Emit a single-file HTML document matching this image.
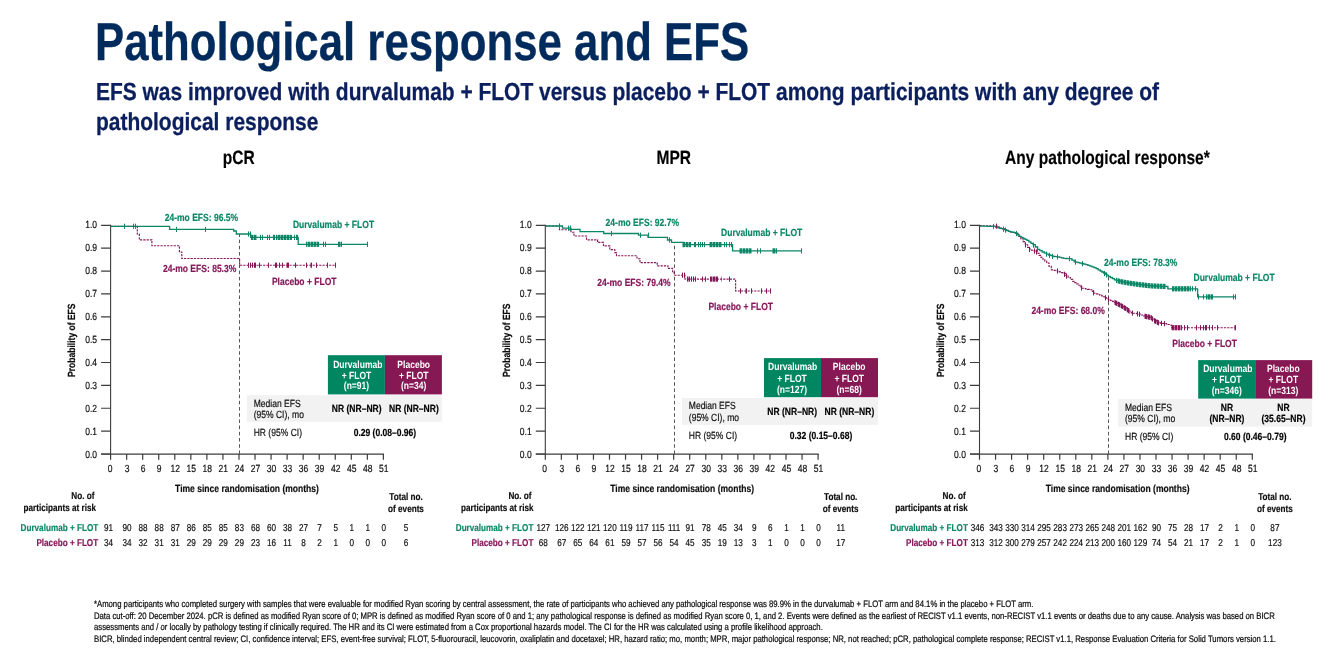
<!DOCTYPE html>
<html lang="en">
<head>
<meta charset="utf-8">
<title>Pathological response and EFS</title>
<style>
html,body{margin:0;padding:0;background:#fff;}
body{width:1335px;height:655px;overflow:hidden;position:relative;font-family:"Liberation Sans",Arial,sans-serif;text-rendering:geometricPrecision;}
.slide{position:absolute;left:0;top:0;width:1335px;height:655px;overflow:hidden;background:#fff;}
h1,h2,p{margin:0;padding:0;position:absolute;white-space:nowrap;transform-origin:0 0;font-family:"Liberation Sans",Arial,sans-serif;}
h1{left:94.7px;top:12.1px;font-size:53.6px;line-height:60px;font-weight:bold;color:#002b5c;-webkit-text-stroke:0.3px #002b5c;transform:scaleX(0.8166);}
h2{left:95.5px;top:77.6px;font-size:24.6px;line-height:30.6px;font-weight:bold;color:#0b1f5e;-webkit-text-stroke:0.3px #0b1f5e;transform:scaleX(0.852);}
.fn p{left:94px;font-size:9.4px;line-height:12px;color:#0a0a0a;-webkit-text-stroke:0.22px #0a0a0a;transform:scaleX(0.823);}
svg{position:absolute;left:0;top:0;}
svg text{font-family:"Liberation Sans",Arial,sans-serif;white-space:pre;text-rendering:geometricPrecision;stroke-width:0.18px;stroke-linejoin:round;}
</style>
</head>
<body>
<div class="slide">
<h1>Pathological response and EFS</h1>
<h2>EFS was improved with durvalumab + FLOT versus placebo + FLOT among participants with any degree of<br>pathological response</h2>
<svg width="1335" height="655" viewBox="0 0 1335 655">
<g id="chart-pcr">
<path d="M110.60 224.70V454.10" fill="none" stroke="#3c3c3c" stroke-width="1.1"/>
<path d="M101.10 454.10H384.00" fill="none" stroke="#3c3c3c" stroke-width="1.15"/>
<path d="M101.10 454.00H110.60M101.10 431.13H110.60M101.10 408.26H110.60M101.10 385.39H110.60M101.10 362.52H110.60M101.10 339.65H110.60M101.10 316.78H110.60M101.10 293.91H110.60M101.10 271.04H110.60M101.10 248.17H110.60M101.10 225.30H110.60M110.60 454.00V459.80M126.65 454.00V459.80M142.69 454.00V459.80M158.74 454.00V459.80M174.79 454.00V459.80M190.84 454.00V459.80M206.88 454.00V459.80M222.93 454.00V459.80M238.98 454.00V459.80M255.02 454.00V459.80M271.07 454.00V459.80M287.12 454.00V459.80M303.16 454.00V459.80M319.21 454.00V459.80M335.26 454.00V459.80M351.31 454.00V459.80M367.35 454.00V459.80M383.40 454.00V459.80" fill="none" stroke="#3c3c3c" stroke-width="1.2"/>
<path d="M239.50 454.00V234.00" fill="none" stroke="#585858" stroke-width="1" stroke-dasharray="3.6 2.6"/>
<text transform="translate(97.00 457.70) scale(0.82 1)" font-size="10.4" text-anchor="end" fill="#0d0d0d" stroke="#0d0d0d">0.0</text>
<text transform="translate(97.00 434.73) scale(0.82 1)" font-size="10.4" text-anchor="end" fill="#0d0d0d" stroke="#0d0d0d">0.1</text>
<text transform="translate(97.00 411.76) scale(0.82 1)" font-size="10.4" text-anchor="end" fill="#0d0d0d" stroke="#0d0d0d">0.2</text>
<text transform="translate(97.00 388.79) scale(0.82 1)" font-size="10.4" text-anchor="end" fill="#0d0d0d" stroke="#0d0d0d">0.3</text>
<text transform="translate(97.00 365.82) scale(0.82 1)" font-size="10.4" text-anchor="end" fill="#0d0d0d" stroke="#0d0d0d">0.4</text>
<text transform="translate(97.00 342.85) scale(0.82 1)" font-size="10.4" text-anchor="end" fill="#0d0d0d" stroke="#0d0d0d">0.5</text>
<text transform="translate(97.00 319.88) scale(0.82 1)" font-size="10.4" text-anchor="end" fill="#0d0d0d" stroke="#0d0d0d">0.6</text>
<text transform="translate(97.00 296.91) scale(0.82 1)" font-size="10.4" text-anchor="end" fill="#0d0d0d" stroke="#0d0d0d">0.7</text>
<text transform="translate(97.00 273.94) scale(0.82 1)" font-size="10.4" text-anchor="end" fill="#0d0d0d" stroke="#0d0d0d">0.8</text>
<text transform="translate(97.00 250.97) scale(0.82 1)" font-size="10.4" text-anchor="end" fill="#0d0d0d" stroke="#0d0d0d">0.9</text>
<text transform="translate(97.00 228.00) scale(0.82 1)" font-size="10.4" text-anchor="end" fill="#0d0d0d" stroke="#0d0d0d">1.0</text>
<text transform="translate(110.00 471.80) scale(0.82 1)" font-size="10.4" text-anchor="middle" fill="#0d0d0d" stroke="#0d0d0d">0</text>
<text transform="translate(127.05 471.80) scale(0.82 1)" font-size="10.4" text-anchor="middle" fill="#0d0d0d" stroke="#0d0d0d">3</text>
<text transform="translate(143.09 471.80) scale(0.82 1)" font-size="10.4" text-anchor="middle" fill="#0d0d0d" stroke="#0d0d0d">6</text>
<text transform="translate(159.14 471.80) scale(0.82 1)" font-size="10.4" text-anchor="middle" fill="#0d0d0d" stroke="#0d0d0d">9</text>
<text transform="translate(175.19 471.80) scale(0.82 1)" font-size="10.4" text-anchor="middle" fill="#0d0d0d" stroke="#0d0d0d">12</text>
<text transform="translate(191.24 471.80) scale(0.82 1)" font-size="10.4" text-anchor="middle" fill="#0d0d0d" stroke="#0d0d0d">15</text>
<text transform="translate(207.28 471.80) scale(0.82 1)" font-size="10.4" text-anchor="middle" fill="#0d0d0d" stroke="#0d0d0d">18</text>
<text transform="translate(223.33 471.80) scale(0.82 1)" font-size="10.4" text-anchor="middle" fill="#0d0d0d" stroke="#0d0d0d">21</text>
<text transform="translate(239.38 471.80) scale(0.82 1)" font-size="10.4" text-anchor="middle" fill="#0d0d0d" stroke="#0d0d0d">24</text>
<text transform="translate(255.42 471.80) scale(0.82 1)" font-size="10.4" text-anchor="middle" fill="#0d0d0d" stroke="#0d0d0d">27</text>
<text transform="translate(271.47 471.80) scale(0.82 1)" font-size="10.4" text-anchor="middle" fill="#0d0d0d" stroke="#0d0d0d">30</text>
<text transform="translate(287.52 471.80) scale(0.82 1)" font-size="10.4" text-anchor="middle" fill="#0d0d0d" stroke="#0d0d0d">33</text>
<text transform="translate(303.56 471.80) scale(0.82 1)" font-size="10.4" text-anchor="middle" fill="#0d0d0d" stroke="#0d0d0d">36</text>
<text transform="translate(319.61 471.80) scale(0.82 1)" font-size="10.4" text-anchor="middle" fill="#0d0d0d" stroke="#0d0d0d">39</text>
<text transform="translate(335.66 471.80) scale(0.82 1)" font-size="10.4" text-anchor="middle" fill="#0d0d0d" stroke="#0d0d0d">42</text>
<text transform="translate(351.71 471.80) scale(0.82 1)" font-size="10.4" text-anchor="middle" fill="#0d0d0d" stroke="#0d0d0d">45</text>
<text transform="translate(367.75 471.80) scale(0.82 1)" font-size="10.4" text-anchor="middle" fill="#0d0d0d" stroke="#0d0d0d">48</text>
<text transform="translate(383.80 471.80) scale(0.82 1)" font-size="10.4" text-anchor="middle" fill="#0d0d0d" stroke="#0d0d0d">51</text>
<text transform="translate(75.00 340.20) rotate(-90) scale(0.82 1)" font-size="10.4" font-weight="bold" text-anchor="middle" fill="#0d0d0d" stroke="#0d0d0d">Probability of EFS</text>
<text transform="translate(247.00 491.80) scale(0.82 1)" font-size="10.4" font-weight="bold" text-anchor="middle" fill="#0d0d0d" stroke="#0d0d0d">Time since randomisation (months)</text>
<path d="M110.6 226.3H137.3V234.0H139.3V239.8H151.9V245.7H179.4V252.0H181.8V258.5H239.6V265.2H335.6V265.2" fill="none" stroke="#86185a" stroke-width="1.15" stroke-dasharray="2.2 1.1"/>
<path d="M110.6 226.3H169.6V229.4H233.7V231.0H236.3V234.0H250.6V237.4H298.2V244.3H367.6V244.3" fill="none" stroke="#0b8767" stroke-width="1.3"/>
<path d="M124.5 223.7V228.9M133.5 223.7V228.9M135.5 223.7V228.9M176.5 226.8V232.0M205.5 226.8V232.0M248.5 231.4V236.6M250.5 231.4V236.6M251.5 234.8V240.0M252.5 234.8V240.0M254.5 234.8V240.0M255.5 234.8V240.0M260.5 234.8V240.0M262.5 234.8V240.0M267.5 234.8V240.0M269.5 234.8V240.0M273.5 234.8V240.0M274.5 234.8V240.0M276.5 234.8V240.0M278.5 234.8V240.0M279.5 234.8V240.0M281.5 234.8V240.0M282.5 234.8V240.0M284.5 234.8V240.0M285.5 234.8V240.0M287.5 234.8V240.0M288.5 234.8V240.0M290.5 234.8V240.0M291.5 234.8V240.0M294.5 234.8V240.0M296.5 234.8V240.0M297.5 234.8V240.0M306.5 241.7V246.9M308.5 241.7V246.9M309.5 241.7V246.9M311.5 241.7V246.9M312.5 241.7V246.9M314.5 241.7V246.9M315.5 241.7V246.9M317.5 241.7V246.9M318.5 241.7V246.9M323.5 241.7V246.9M325.5 241.7V246.9M338.5 241.7V246.9M339.5 241.7V246.9M341.5 241.7V246.9M367.5 241.7V246.9" fill="none" stroke="#0b8767" stroke-width="1"/>
<path d="M253.5 234.8V240.0M256.5 234.8V240.0M277.5 234.8V240.0M280.5 234.8V240.0M283.5 234.8V240.0M286.5 234.8V240.0M289.5 234.8V240.0M307.5 241.7V246.9M310.5 241.7V246.9M313.5 241.7V246.9M316.5 241.7V246.9M340.5 241.7V246.9" fill="none" stroke="#0b8767" stroke-width="1" stroke-opacity="0.5"/>
<path d="M248.5 262.6V267.8M250.5 262.6V267.8M252.5 262.6V267.8M254.5 262.6V267.8M255.5 262.6V267.8M259.5 262.6V267.8M268.5 262.6V267.8M275.5 262.6V267.8M276.5 262.6V267.8M279.5 262.6V267.8M282.5 262.6V267.8M287.5 262.6V267.8M288.5 262.6V267.8M295.5 262.6V267.8M306.5 262.6V267.8M311.5 262.6V267.8M316.5 262.6V267.8M327.5 262.6V267.8M335.5 262.6V267.8" fill="none" stroke="#86185a" stroke-width="1"/>
<path d="M286.5 262.6V267.8M310.5 262.6V267.8" fill="none" stroke="#86185a" stroke-width="1" stroke-opacity="0.5"/>
<text transform="translate(164.70 220.90) scale(0.82 1)" font-size="10.4" font-weight="bold" fill="#0b8767" stroke="#0b8767">24-mo EFS: 96.5%</text>
<text transform="translate(162.90 271.80) scale(0.82 1)" font-size="10.4" font-weight="bold" fill="#86185a" stroke="#86185a">24-mo EFS: 85.3%</text>
<text transform="translate(292.90 227.60) scale(0.82 1)" font-size="10.4" font-weight="bold" fill="#0b8767" stroke="#0b8767">Durvalumab + FLOT</text>
<text transform="translate(271.90 284.60) scale(0.82 1)" font-size="10.4" font-weight="bold" fill="#86185a" stroke="#86185a">Placebo + FLOT</text>
<text transform="translate(238.70 164.30) scale(0.81 1)" font-size="19.2" font-weight="bold" text-anchor="middle" fill="#000" stroke="#000">pCR</text>
<rect x="246.90" y="395.20" width="195.00" height="26.60" fill="#f2f2f2"/>
<rect x="327.90" y="355.20" width="57" height="39.20" fill="#018662"/>
<rect x="384.90" y="355.20" width="57" height="39.20" fill="#861854"/>
<text transform="translate(357.80 367.70) scale(0.82 1)" font-size="10.4" font-weight="bold" text-anchor="middle" fill="#fff">Durvalumab</text>
<text transform="translate(356.50 378.50) scale(0.82 1)" font-size="10.4" font-weight="bold" text-anchor="middle" fill="#fff">+ FLOT</text>
<text transform="translate(356.50 389.30) scale(0.82 1)" font-size="10.4" font-weight="bold" text-anchor="middle" fill="#fff">(n=91)</text>
<text transform="translate(413.70 367.70) scale(0.82 1)" font-size="10.4" font-weight="bold" text-anchor="middle" fill="#fff">Placebo</text>
<text transform="translate(413.70 378.50) scale(0.82 1)" font-size="10.4" font-weight="bold" text-anchor="middle" fill="#fff">+ FLOT</text>
<text transform="translate(413.70 389.30) scale(0.82 1)" font-size="10.4" font-weight="bold" text-anchor="middle" fill="#fff">(n=34)</text>
<text transform="translate(253.70 406.80) scale(0.82 1)" font-size="10.4" fill="#0d0d0d" stroke="#0d0d0d">Median EFS</text>
<text transform="translate(253.70 418.00) scale(0.82 1)" font-size="10.4" fill="#0d0d0d" stroke="#0d0d0d">(95% CI), mo</text>
<text transform="translate(356.70 412.00) scale(0.82 1)" font-size="10.4" font-weight="bold" text-anchor="middle" fill="#000" stroke="#000">NR (NR–NR)</text>
<text transform="translate(413.90 412.00) scale(0.82 1)" font-size="10.4" font-weight="bold" text-anchor="middle" fill="#000" stroke="#000">NR (NR–NR)</text>
<text transform="translate(253.70 436.00) scale(0.82 1)" font-size="10.4" fill="#0d0d0d" stroke="#0d0d0d">HR (95% CI)</text>
<text transform="translate(384.90 436.00) scale(0.82 1)" font-size="10.4" font-weight="bold" text-anchor="middle" fill="#000" stroke="#000">0.29 (0.08–0.96)</text>
<text transform="translate(94.40 499.00) scale(0.82 1)" font-size="9.95" font-weight="bold" text-anchor="end" fill="#0d0d0d" stroke="#0d0d0d">No. of</text>
<text transform="translate(96.00 511.30) scale(0.82 1)" font-size="9.95" font-weight="bold" text-anchor="end" fill="#0d0d0d" stroke="#0d0d0d">participants at risk</text>
<text transform="translate(406.00 499.80) scale(0.82 1)" font-size="9.95" font-weight="bold" text-anchor="middle" fill="#0d0d0d" stroke="#0d0d0d">Total no.</text>
<text transform="translate(406.00 511.80) scale(0.82 1)" font-size="9.95" font-weight="bold" text-anchor="middle" fill="#0d0d0d" stroke="#0d0d0d">of events</text>
<text transform="translate(98.20 530.80) scale(0.82 1)" font-size="9.95" font-weight="bold" text-anchor="end" fill="#0b8767" stroke="#0b8767">Durvalumab + FLOT</text>
<text transform="translate(98.20 546.20) scale(0.82 1)" font-size="9.95" font-weight="bold" text-anchor="end" fill="#86185a" stroke="#86185a">Placebo + FLOT</text>
<text transform="translate(108.60 530.80) scale(0.82 1)" font-size="9.95" text-anchor="middle" fill="#0d0d0d" stroke="#0d0d0d">91</text>
<text transform="translate(127.05 530.80) scale(0.82 1)" font-size="9.95" text-anchor="middle" fill="#0d0d0d" stroke="#0d0d0d">90</text>
<text transform="translate(143.09 530.80) scale(0.82 1)" font-size="9.95" text-anchor="middle" fill="#0d0d0d" stroke="#0d0d0d">88</text>
<text transform="translate(159.14 530.80) scale(0.82 1)" font-size="9.95" text-anchor="middle" fill="#0d0d0d" stroke="#0d0d0d">88</text>
<text transform="translate(175.19 530.80) scale(0.82 1)" font-size="9.95" text-anchor="middle" fill="#0d0d0d" stroke="#0d0d0d">87</text>
<text transform="translate(191.24 530.80) scale(0.82 1)" font-size="9.95" text-anchor="middle" fill="#0d0d0d" stroke="#0d0d0d">86</text>
<text transform="translate(207.28 530.80) scale(0.82 1)" font-size="9.95" text-anchor="middle" fill="#0d0d0d" stroke="#0d0d0d">85</text>
<text transform="translate(223.33 530.80) scale(0.82 1)" font-size="9.95" text-anchor="middle" fill="#0d0d0d" stroke="#0d0d0d">85</text>
<text transform="translate(239.38 530.80) scale(0.82 1)" font-size="9.95" text-anchor="middle" fill="#0d0d0d" stroke="#0d0d0d">83</text>
<text transform="translate(255.42 530.80) scale(0.82 1)" font-size="9.95" text-anchor="middle" fill="#0d0d0d" stroke="#0d0d0d">68</text>
<text transform="translate(271.47 530.80) scale(0.82 1)" font-size="9.95" text-anchor="middle" fill="#0d0d0d" stroke="#0d0d0d">60</text>
<text transform="translate(287.52 530.80) scale(0.82 1)" font-size="9.95" text-anchor="middle" fill="#0d0d0d" stroke="#0d0d0d">38</text>
<text transform="translate(303.56 530.80) scale(0.82 1)" font-size="9.95" text-anchor="middle" fill="#0d0d0d" stroke="#0d0d0d">27</text>
<text transform="translate(319.61 530.80) scale(0.82 1)" font-size="9.95" text-anchor="middle" fill="#0d0d0d" stroke="#0d0d0d">7</text>
<text transform="translate(335.66 530.80) scale(0.82 1)" font-size="9.95" text-anchor="middle" fill="#0d0d0d" stroke="#0d0d0d">5</text>
<text transform="translate(351.71 530.80) scale(0.82 1)" font-size="9.95" text-anchor="middle" fill="#0d0d0d" stroke="#0d0d0d">1</text>
<text transform="translate(367.75 530.80) scale(0.82 1)" font-size="9.95" text-anchor="middle" fill="#0d0d0d" stroke="#0d0d0d">1</text>
<text transform="translate(383.80 530.80) scale(0.82 1)" font-size="9.95" text-anchor="middle" fill="#0d0d0d" stroke="#0d0d0d">0</text>
<text transform="translate(108.60 546.20) scale(0.82 1)" font-size="9.95" text-anchor="middle" fill="#0d0d0d" stroke="#0d0d0d">34</text>
<text transform="translate(127.05 546.20) scale(0.82 1)" font-size="9.95" text-anchor="middle" fill="#0d0d0d" stroke="#0d0d0d">34</text>
<text transform="translate(143.09 546.20) scale(0.82 1)" font-size="9.95" text-anchor="middle" fill="#0d0d0d" stroke="#0d0d0d">32</text>
<text transform="translate(159.14 546.20) scale(0.82 1)" font-size="9.95" text-anchor="middle" fill="#0d0d0d" stroke="#0d0d0d">31</text>
<text transform="translate(175.19 546.20) scale(0.82 1)" font-size="9.95" text-anchor="middle" fill="#0d0d0d" stroke="#0d0d0d">31</text>
<text transform="translate(191.24 546.20) scale(0.82 1)" font-size="9.95" text-anchor="middle" fill="#0d0d0d" stroke="#0d0d0d">29</text>
<text transform="translate(207.28 546.20) scale(0.82 1)" font-size="9.95" text-anchor="middle" fill="#0d0d0d" stroke="#0d0d0d">29</text>
<text transform="translate(223.33 546.20) scale(0.82 1)" font-size="9.95" text-anchor="middle" fill="#0d0d0d" stroke="#0d0d0d">29</text>
<text transform="translate(239.38 546.20) scale(0.82 1)" font-size="9.95" text-anchor="middle" fill="#0d0d0d" stroke="#0d0d0d">29</text>
<text transform="translate(255.42 546.20) scale(0.82 1)" font-size="9.95" text-anchor="middle" fill="#0d0d0d" stroke="#0d0d0d">23</text>
<text transform="translate(271.47 546.20) scale(0.82 1)" font-size="9.95" text-anchor="middle" fill="#0d0d0d" stroke="#0d0d0d">16</text>
<text transform="translate(287.52 546.20) scale(0.82 1)" font-size="9.95" text-anchor="middle" fill="#0d0d0d" stroke="#0d0d0d">11</text>
<text transform="translate(303.56 546.20) scale(0.82 1)" font-size="9.95" text-anchor="middle" fill="#0d0d0d" stroke="#0d0d0d">8</text>
<text transform="translate(319.61 546.20) scale(0.82 1)" font-size="9.95" text-anchor="middle" fill="#0d0d0d" stroke="#0d0d0d">2</text>
<text transform="translate(335.66 546.20) scale(0.82 1)" font-size="9.95" text-anchor="middle" fill="#0d0d0d" stroke="#0d0d0d">1</text>
<text transform="translate(351.71 546.20) scale(0.82 1)" font-size="9.95" text-anchor="middle" fill="#0d0d0d" stroke="#0d0d0d">0</text>
<text transform="translate(367.75 546.20) scale(0.82 1)" font-size="9.95" text-anchor="middle" fill="#0d0d0d" stroke="#0d0d0d">0</text>
<text transform="translate(383.80 546.20) scale(0.82 1)" font-size="9.95" text-anchor="middle" fill="#0d0d0d" stroke="#0d0d0d">0</text>
<text transform="translate(406.00 530.80) scale(0.82 1)" font-size="9.95" text-anchor="middle" fill="#0d0d0d" stroke="#0d0d0d">5</text>
<text transform="translate(406.00 546.20) scale(0.82 1)" font-size="9.95" text-anchor="middle" fill="#0d0d0d" stroke="#0d0d0d">6</text>
</g>
<g id="chart-mpr">
<path d="M545.30 224.70V454.10" fill="none" stroke="#3c3c3c" stroke-width="1.1"/>
<path d="M535.80 454.10H818.70" fill="none" stroke="#3c3c3c" stroke-width="1.15"/>
<path d="M535.80 454.00H545.30M535.80 431.13H545.30M535.80 408.26H545.30M535.80 385.39H545.30M535.80 362.52H545.30M535.80 339.65H545.30M535.80 316.78H545.30M535.80 293.91H545.30M535.80 271.04H545.30M535.80 248.17H545.30M535.80 225.30H545.30M545.30 454.00V459.80M561.35 454.00V459.80M577.39 454.00V459.80M593.44 454.00V459.80M609.49 454.00V459.80M625.54 454.00V459.80M641.58 454.00V459.80M657.63 454.00V459.80M673.68 454.00V459.80M689.72 454.00V459.80M705.77 454.00V459.80M721.82 454.00V459.80M737.86 454.00V459.80M753.91 454.00V459.80M769.96 454.00V459.80M786.01 454.00V459.80M802.05 454.00V459.80M818.10 454.00V459.80" fill="none" stroke="#3c3c3c" stroke-width="1.2"/>
<path d="M674.50 454.00V242.10" fill="none" stroke="#585858" stroke-width="1" stroke-dasharray="3.6 2.6"/>
<text transform="translate(531.70 457.70) scale(0.82 1)" font-size="10.4" text-anchor="end" fill="#0d0d0d" stroke="#0d0d0d">0.0</text>
<text transform="translate(531.70 434.73) scale(0.82 1)" font-size="10.4" text-anchor="end" fill="#0d0d0d" stroke="#0d0d0d">0.1</text>
<text transform="translate(531.70 411.76) scale(0.82 1)" font-size="10.4" text-anchor="end" fill="#0d0d0d" stroke="#0d0d0d">0.2</text>
<text transform="translate(531.70 388.79) scale(0.82 1)" font-size="10.4" text-anchor="end" fill="#0d0d0d" stroke="#0d0d0d">0.3</text>
<text transform="translate(531.70 365.82) scale(0.82 1)" font-size="10.4" text-anchor="end" fill="#0d0d0d" stroke="#0d0d0d">0.4</text>
<text transform="translate(531.70 342.85) scale(0.82 1)" font-size="10.4" text-anchor="end" fill="#0d0d0d" stroke="#0d0d0d">0.5</text>
<text transform="translate(531.70 319.88) scale(0.82 1)" font-size="10.4" text-anchor="end" fill="#0d0d0d" stroke="#0d0d0d">0.6</text>
<text transform="translate(531.70 296.91) scale(0.82 1)" font-size="10.4" text-anchor="end" fill="#0d0d0d" stroke="#0d0d0d">0.7</text>
<text transform="translate(531.70 273.94) scale(0.82 1)" font-size="10.4" text-anchor="end" fill="#0d0d0d" stroke="#0d0d0d">0.8</text>
<text transform="translate(531.70 250.97) scale(0.82 1)" font-size="10.4" text-anchor="end" fill="#0d0d0d" stroke="#0d0d0d">0.9</text>
<text transform="translate(531.70 228.00) scale(0.82 1)" font-size="10.4" text-anchor="end" fill="#0d0d0d" stroke="#0d0d0d">1.0</text>
<text transform="translate(544.70 471.80) scale(0.82 1)" font-size="10.4" text-anchor="middle" fill="#0d0d0d" stroke="#0d0d0d">0</text>
<text transform="translate(561.75 471.80) scale(0.82 1)" font-size="10.4" text-anchor="middle" fill="#0d0d0d" stroke="#0d0d0d">3</text>
<text transform="translate(577.79 471.80) scale(0.82 1)" font-size="10.4" text-anchor="middle" fill="#0d0d0d" stroke="#0d0d0d">6</text>
<text transform="translate(593.84 471.80) scale(0.82 1)" font-size="10.4" text-anchor="middle" fill="#0d0d0d" stroke="#0d0d0d">9</text>
<text transform="translate(609.89 471.80) scale(0.82 1)" font-size="10.4" text-anchor="middle" fill="#0d0d0d" stroke="#0d0d0d">12</text>
<text transform="translate(625.94 471.80) scale(0.82 1)" font-size="10.4" text-anchor="middle" fill="#0d0d0d" stroke="#0d0d0d">15</text>
<text transform="translate(641.98 471.80) scale(0.82 1)" font-size="10.4" text-anchor="middle" fill="#0d0d0d" stroke="#0d0d0d">18</text>
<text transform="translate(658.03 471.80) scale(0.82 1)" font-size="10.4" text-anchor="middle" fill="#0d0d0d" stroke="#0d0d0d">21</text>
<text transform="translate(674.08 471.80) scale(0.82 1)" font-size="10.4" text-anchor="middle" fill="#0d0d0d" stroke="#0d0d0d">24</text>
<text transform="translate(690.12 471.80) scale(0.82 1)" font-size="10.4" text-anchor="middle" fill="#0d0d0d" stroke="#0d0d0d">27</text>
<text transform="translate(706.17 471.80) scale(0.82 1)" font-size="10.4" text-anchor="middle" fill="#0d0d0d" stroke="#0d0d0d">30</text>
<text transform="translate(722.22 471.80) scale(0.82 1)" font-size="10.4" text-anchor="middle" fill="#0d0d0d" stroke="#0d0d0d">33</text>
<text transform="translate(738.26 471.80) scale(0.82 1)" font-size="10.4" text-anchor="middle" fill="#0d0d0d" stroke="#0d0d0d">36</text>
<text transform="translate(754.31 471.80) scale(0.82 1)" font-size="10.4" text-anchor="middle" fill="#0d0d0d" stroke="#0d0d0d">39</text>
<text transform="translate(770.36 471.80) scale(0.82 1)" font-size="10.4" text-anchor="middle" fill="#0d0d0d" stroke="#0d0d0d">42</text>
<text transform="translate(786.41 471.80) scale(0.82 1)" font-size="10.4" text-anchor="middle" fill="#0d0d0d" stroke="#0d0d0d">45</text>
<text transform="translate(802.45 471.80) scale(0.82 1)" font-size="10.4" text-anchor="middle" fill="#0d0d0d" stroke="#0d0d0d">48</text>
<text transform="translate(818.50 471.80) scale(0.82 1)" font-size="10.4" text-anchor="middle" fill="#0d0d0d" stroke="#0d0d0d">51</text>
<text transform="translate(509.70 340.20) rotate(-90) scale(0.82 1)" font-size="10.4" font-weight="bold" text-anchor="middle" fill="#0d0d0d" stroke="#0d0d0d">Probability of EFS</text>
<text transform="translate(682.20 491.80) scale(0.82 1)" font-size="10.4" font-weight="bold" text-anchor="middle" fill="#0d0d0d" stroke="#0d0d0d">Time since randomisation (months)</text>
<path d="M545.3 226.0H559.5V229.7H571.0V232.2H574.0V236.0H586.5V239.8H597.6V242.4H603.5V245.9H609.8V249.6H614.8V252.6H616.5V255.7H637.0V258.7H640.0V262.6H657.2V265.8H667.9V268.4H672.6V271.7H674.2V275.2H685.0V279.1H735.6V291.0H770.2V291.0" fill="none" stroke="#86185a" stroke-width="1.15" stroke-dasharray="2.2 1.1"/>
<path d="M545.3 226.0H562.5V228.2H570.9V229.4H580.0V231.7H603.7V233.5H638.5V235.2H648.0V237.3H667.5V240.0H671.5V242.3H684.0V244.6H732.6V250.9H801.7V250.9" fill="none" stroke="#0b8767" stroke-width="1.3"/>
<path d="M559.5 223.4V228.6M568.5 225.6V230.8M570.5 225.6V230.8M611.5 230.9V236.1M640.5 232.6V237.8M648.5 232.6V237.8M669.5 237.4V242.6M683.5 242.0V247.2M684.5 242.0V247.2M686.5 242.0V247.2M687.5 242.0V247.2M689.5 242.0V247.2M690.5 242.0V247.2M694.5 242.0V247.2M695.5 242.0V247.2M698.5 242.0V247.2M700.5 242.0V247.2M702.5 242.0V247.2M704.5 242.0V247.2M710.5 242.0V247.2M711.5 242.0V247.2M713.5 242.0V247.2M714.5 242.0V247.2M716.5 242.0V247.2M717.5 242.0V247.2M719.5 242.0V247.2M720.5 242.0V247.2M724.5 242.0V247.2M726.5 242.0V247.2M729.5 242.0V247.2M731.5 242.0V247.2M740.5 248.3V253.5M741.5 248.3V253.5M743.5 248.3V253.5M744.5 248.3V253.5M746.5 248.3V253.5M747.5 248.3V253.5M749.5 248.3V253.5M750.5 248.3V253.5M757.5 248.3V253.5M760.5 248.3V253.5M773.5 248.3V253.5M774.5 248.3V253.5M776.5 248.3V253.5M801.5 248.3V253.5" fill="none" stroke="#0b8767" stroke-width="1"/>
<path d="M682.5 242.0V247.2M685.5 242.0V247.2M688.5 242.0V247.2M709.5 242.0V247.2M712.5 242.0V247.2M715.5 242.0V247.2M718.5 242.0V247.2M721.5 242.0V247.2M739.5 248.3V253.5M742.5 248.3V253.5M745.5 248.3V253.5M748.5 248.3V253.5M751.5 248.3V253.5M772.5 248.3V253.5M775.5 248.3V253.5" fill="none" stroke="#0b8767" stroke-width="1" stroke-opacity="0.5"/>
<path d="M682.5 272.6V277.8M684.5 272.6V277.8M687.5 276.5V281.7M689.5 276.5V281.7M691.5 276.5V281.7M693.5 276.5V281.7M695.5 276.5V281.7M702.5 276.5V281.7M705.5 276.5V281.7M710.5 276.5V281.7M711.5 276.5V281.7M713.5 276.5V281.7M714.5 276.5V281.7M716.5 276.5V281.7M717.5 276.5V281.7M729.5 276.5V281.7M740.5 288.4V293.6M746.5 288.4V293.6M751.5 288.4V293.6M761.5 288.4V293.6M766.5 288.4V293.6M770.5 288.4V293.6" fill="none" stroke="#86185a" stroke-width="1"/>
<path d="M688.5 276.5V281.7M712.5 276.5V281.7M715.5 276.5V281.7M721.5 276.5V281.7M745.5 288.4V293.6" fill="none" stroke="#86185a" stroke-width="1" stroke-opacity="0.5"/>
<text transform="translate(605.60 225.60) scale(0.82 1)" font-size="10.4" font-weight="bold" fill="#0b8767" stroke="#0b8767">24-mo EFS: 92.7%</text>
<text transform="translate(597.20 285.60) scale(0.82 1)" font-size="10.4" font-weight="bold" fill="#86185a" stroke="#86185a">24-mo EFS: 79.4%</text>
<text transform="translate(721.10 235.60) scale(0.82 1)" font-size="10.4" font-weight="bold" fill="#0b8767" stroke="#0b8767">Durvalumab + FLOT</text>
<text transform="translate(708.40 310.40) scale(0.82 1)" font-size="10.4" font-weight="bold" fill="#86185a" stroke="#86185a">Placebo + FLOT</text>
<text transform="translate(673.70 164.30) scale(0.81 1)" font-size="19.2" font-weight="bold" text-anchor="middle" fill="#000" stroke="#000">MPR</text>
<rect x="682.00" y="398.00" width="196.00" height="26.90" fill="#f2f2f2"/>
<rect x="764.00" y="358.10" width="57" height="39.10" fill="#018662"/>
<rect x="821.00" y="358.10" width="57" height="39.10" fill="#861854"/>
<text transform="translate(792.70 369.80) scale(0.82 1)" font-size="10.4" font-weight="bold" text-anchor="middle" fill="#fff">Durvalumab</text>
<text transform="translate(792.00 381.50) scale(0.82 1)" font-size="10.4" font-weight="bold" text-anchor="middle" fill="#fff">+ FLOT</text>
<text transform="translate(792.00 392.80) scale(0.82 1)" font-size="10.4" font-weight="bold" text-anchor="middle" fill="#fff">(n=127)</text>
<text transform="translate(849.20 369.80) scale(0.82 1)" font-size="10.4" font-weight="bold" text-anchor="middle" fill="#fff">Placebo</text>
<text transform="translate(849.20 381.50) scale(0.82 1)" font-size="10.4" font-weight="bold" text-anchor="middle" fill="#fff">+ FLOT</text>
<text transform="translate(849.20 392.80) scale(0.82 1)" font-size="10.4" font-weight="bold" text-anchor="middle" fill="#fff">(n=68)</text>
<text transform="translate(688.80 408.80) scale(0.82 1)" font-size="10.4" fill="#0d0d0d" stroke="#0d0d0d">Median EFS</text>
<text transform="translate(688.80 420.80) scale(0.82 1)" font-size="10.4" fill="#0d0d0d" stroke="#0d0d0d">(95% CI), mo</text>
<text transform="translate(792.20 414.90) scale(0.82 1)" font-size="10.4" font-weight="bold" text-anchor="middle" fill="#000" stroke="#000">NR (NR–NR)</text>
<text transform="translate(849.40 414.90) scale(0.82 1)" font-size="10.4" font-weight="bold" text-anchor="middle" fill="#000" stroke="#000">NR (NR–NR)</text>
<text transform="translate(688.80 438.90) scale(0.82 1)" font-size="10.4" fill="#0d0d0d" stroke="#0d0d0d">HR (95% CI)</text>
<text transform="translate(821.00 438.90) scale(0.82 1)" font-size="10.4" font-weight="bold" text-anchor="middle" fill="#000" stroke="#000">0.32 (0.15–0.68)</text>
<text transform="translate(531.50 499.00) scale(0.82 1)" font-size="9.95" font-weight="bold" text-anchor="end" fill="#0d0d0d" stroke="#0d0d0d">No. of</text>
<text transform="translate(533.50 511.30) scale(0.82 1)" font-size="9.95" font-weight="bold" text-anchor="end" fill="#0d0d0d" stroke="#0d0d0d">participants at risk</text>
<text transform="translate(840.70 499.80) scale(0.82 1)" font-size="9.95" font-weight="bold" text-anchor="middle" fill="#0d0d0d" stroke="#0d0d0d">Total no.</text>
<text transform="translate(840.70 511.80) scale(0.82 1)" font-size="9.95" font-weight="bold" text-anchor="middle" fill="#0d0d0d" stroke="#0d0d0d">of events</text>
<text transform="translate(533.40 530.80) scale(0.82 1)" font-size="9.95" font-weight="bold" text-anchor="end" fill="#0b8767" stroke="#0b8767">Durvalumab + FLOT</text>
<text transform="translate(533.40 546.20) scale(0.82 1)" font-size="9.95" font-weight="bold" text-anchor="end" fill="#86185a" stroke="#86185a">Placebo + FLOT</text>
<text transform="translate(543.30 530.80) scale(0.82 1)" font-size="9.95" text-anchor="middle" fill="#0d0d0d" stroke="#0d0d0d">127</text>
<text transform="translate(561.75 530.80) scale(0.82 1)" font-size="9.95" text-anchor="middle" fill="#0d0d0d" stroke="#0d0d0d">126</text>
<text transform="translate(577.79 530.80) scale(0.82 1)" font-size="9.95" text-anchor="middle" fill="#0d0d0d" stroke="#0d0d0d">122</text>
<text transform="translate(593.84 530.80) scale(0.82 1)" font-size="9.95" text-anchor="middle" fill="#0d0d0d" stroke="#0d0d0d">121</text>
<text transform="translate(609.89 530.80) scale(0.82 1)" font-size="9.95" text-anchor="middle" fill="#0d0d0d" stroke="#0d0d0d">120</text>
<text transform="translate(625.94 530.80) scale(0.82 1)" font-size="9.95" text-anchor="middle" fill="#0d0d0d" stroke="#0d0d0d">119</text>
<text transform="translate(641.98 530.80) scale(0.82 1)" font-size="9.95" text-anchor="middle" fill="#0d0d0d" stroke="#0d0d0d">117</text>
<text transform="translate(658.03 530.80) scale(0.82 1)" font-size="9.95" text-anchor="middle" fill="#0d0d0d" stroke="#0d0d0d">115</text>
<text transform="translate(674.08 530.80) scale(0.82 1)" font-size="9.95" text-anchor="middle" fill="#0d0d0d" stroke="#0d0d0d">111</text>
<text transform="translate(690.12 530.80) scale(0.82 1)" font-size="9.95" text-anchor="middle" fill="#0d0d0d" stroke="#0d0d0d">91</text>
<text transform="translate(706.17 530.80) scale(0.82 1)" font-size="9.95" text-anchor="middle" fill="#0d0d0d" stroke="#0d0d0d">78</text>
<text transform="translate(722.22 530.80) scale(0.82 1)" font-size="9.95" text-anchor="middle" fill="#0d0d0d" stroke="#0d0d0d">45</text>
<text transform="translate(738.26 530.80) scale(0.82 1)" font-size="9.95" text-anchor="middle" fill="#0d0d0d" stroke="#0d0d0d">34</text>
<text transform="translate(754.31 530.80) scale(0.82 1)" font-size="9.95" text-anchor="middle" fill="#0d0d0d" stroke="#0d0d0d">9</text>
<text transform="translate(770.36 530.80) scale(0.82 1)" font-size="9.95" text-anchor="middle" fill="#0d0d0d" stroke="#0d0d0d">6</text>
<text transform="translate(786.41 530.80) scale(0.82 1)" font-size="9.95" text-anchor="middle" fill="#0d0d0d" stroke="#0d0d0d">1</text>
<text transform="translate(802.45 530.80) scale(0.82 1)" font-size="9.95" text-anchor="middle" fill="#0d0d0d" stroke="#0d0d0d">1</text>
<text transform="translate(818.50 530.80) scale(0.82 1)" font-size="9.95" text-anchor="middle" fill="#0d0d0d" stroke="#0d0d0d">0</text>
<text transform="translate(543.30 546.20) scale(0.82 1)" font-size="9.95" text-anchor="middle" fill="#0d0d0d" stroke="#0d0d0d">68</text>
<text transform="translate(561.75 546.20) scale(0.82 1)" font-size="9.95" text-anchor="middle" fill="#0d0d0d" stroke="#0d0d0d">67</text>
<text transform="translate(577.79 546.20) scale(0.82 1)" font-size="9.95" text-anchor="middle" fill="#0d0d0d" stroke="#0d0d0d">65</text>
<text transform="translate(593.84 546.20) scale(0.82 1)" font-size="9.95" text-anchor="middle" fill="#0d0d0d" stroke="#0d0d0d">64</text>
<text transform="translate(609.89 546.20) scale(0.82 1)" font-size="9.95" text-anchor="middle" fill="#0d0d0d" stroke="#0d0d0d">61</text>
<text transform="translate(625.94 546.20) scale(0.82 1)" font-size="9.95" text-anchor="middle" fill="#0d0d0d" stroke="#0d0d0d">59</text>
<text transform="translate(641.98 546.20) scale(0.82 1)" font-size="9.95" text-anchor="middle" fill="#0d0d0d" stroke="#0d0d0d">57</text>
<text transform="translate(658.03 546.20) scale(0.82 1)" font-size="9.95" text-anchor="middle" fill="#0d0d0d" stroke="#0d0d0d">56</text>
<text transform="translate(674.08 546.20) scale(0.82 1)" font-size="9.95" text-anchor="middle" fill="#0d0d0d" stroke="#0d0d0d">54</text>
<text transform="translate(690.12 546.20) scale(0.82 1)" font-size="9.95" text-anchor="middle" fill="#0d0d0d" stroke="#0d0d0d">45</text>
<text transform="translate(706.17 546.20) scale(0.82 1)" font-size="9.95" text-anchor="middle" fill="#0d0d0d" stroke="#0d0d0d">35</text>
<text transform="translate(722.22 546.20) scale(0.82 1)" font-size="9.95" text-anchor="middle" fill="#0d0d0d" stroke="#0d0d0d">19</text>
<text transform="translate(738.26 546.20) scale(0.82 1)" font-size="9.95" text-anchor="middle" fill="#0d0d0d" stroke="#0d0d0d">13</text>
<text transform="translate(754.31 546.20) scale(0.82 1)" font-size="9.95" text-anchor="middle" fill="#0d0d0d" stroke="#0d0d0d">3</text>
<text transform="translate(770.36 546.20) scale(0.82 1)" font-size="9.95" text-anchor="middle" fill="#0d0d0d" stroke="#0d0d0d">1</text>
<text transform="translate(786.41 546.20) scale(0.82 1)" font-size="9.95" text-anchor="middle" fill="#0d0d0d" stroke="#0d0d0d">0</text>
<text transform="translate(802.45 546.20) scale(0.82 1)" font-size="9.95" text-anchor="middle" fill="#0d0d0d" stroke="#0d0d0d">0</text>
<text transform="translate(818.50 546.20) scale(0.82 1)" font-size="9.95" text-anchor="middle" fill="#0d0d0d" stroke="#0d0d0d">0</text>
<text transform="translate(840.70 530.80) scale(0.82 1)" font-size="9.95" text-anchor="middle" fill="#0d0d0d" stroke="#0d0d0d">11</text>
<text transform="translate(840.70 546.20) scale(0.82 1)" font-size="9.95" text-anchor="middle" fill="#0d0d0d" stroke="#0d0d0d">17</text>
</g>
<g id="chart-any">
<path d="M979.50 224.70V454.10" fill="none" stroke="#3c3c3c" stroke-width="1.1"/>
<path d="M970.00 454.10H1252.90" fill="none" stroke="#3c3c3c" stroke-width="1.15"/>
<path d="M970.00 454.00H979.50M970.00 431.13H979.50M970.00 408.26H979.50M970.00 385.39H979.50M970.00 362.52H979.50M970.00 339.65H979.50M970.00 316.78H979.50M970.00 293.91H979.50M970.00 271.04H979.50M970.00 248.17H979.50M970.00 225.30H979.50M979.50 454.00V459.80M995.55 454.00V459.80M1011.59 454.00V459.80M1027.64 454.00V459.80M1043.69 454.00V459.80M1059.74 454.00V459.80M1075.78 454.00V459.80M1091.83 454.00V459.80M1107.88 454.00V459.80M1123.92 454.00V459.80M1139.97 454.00V459.80M1156.02 454.00V459.80M1172.06 454.00V459.80M1188.11 454.00V459.80M1204.16 454.00V459.80M1220.21 454.00V459.80M1236.25 454.00V459.80M1252.30 454.00V459.80" fill="none" stroke="#3c3c3c" stroke-width="1.2"/>
<path d="M1108.50 454.00V277.00" fill="none" stroke="#585858" stroke-width="1" stroke-dasharray="3.6 2.6"/>
<text transform="translate(965.90 457.70) scale(0.82 1)" font-size="10.4" text-anchor="end" fill="#0d0d0d" stroke="#0d0d0d">0.0</text>
<text transform="translate(965.90 434.73) scale(0.82 1)" font-size="10.4" text-anchor="end" fill="#0d0d0d" stroke="#0d0d0d">0.1</text>
<text transform="translate(965.90 411.76) scale(0.82 1)" font-size="10.4" text-anchor="end" fill="#0d0d0d" stroke="#0d0d0d">0.2</text>
<text transform="translate(965.90 388.79) scale(0.82 1)" font-size="10.4" text-anchor="end" fill="#0d0d0d" stroke="#0d0d0d">0.3</text>
<text transform="translate(965.90 365.82) scale(0.82 1)" font-size="10.4" text-anchor="end" fill="#0d0d0d" stroke="#0d0d0d">0.4</text>
<text transform="translate(965.90 342.85) scale(0.82 1)" font-size="10.4" text-anchor="end" fill="#0d0d0d" stroke="#0d0d0d">0.5</text>
<text transform="translate(965.90 319.88) scale(0.82 1)" font-size="10.4" text-anchor="end" fill="#0d0d0d" stroke="#0d0d0d">0.6</text>
<text transform="translate(965.90 296.91) scale(0.82 1)" font-size="10.4" text-anchor="end" fill="#0d0d0d" stroke="#0d0d0d">0.7</text>
<text transform="translate(965.90 273.94) scale(0.82 1)" font-size="10.4" text-anchor="end" fill="#0d0d0d" stroke="#0d0d0d">0.8</text>
<text transform="translate(965.90 250.97) scale(0.82 1)" font-size="10.4" text-anchor="end" fill="#0d0d0d" stroke="#0d0d0d">0.9</text>
<text transform="translate(965.90 228.00) scale(0.82 1)" font-size="10.4" text-anchor="end" fill="#0d0d0d" stroke="#0d0d0d">1.0</text>
<text transform="translate(978.90 471.80) scale(0.82 1)" font-size="10.4" text-anchor="middle" fill="#0d0d0d" stroke="#0d0d0d">0</text>
<text transform="translate(995.95 471.80) scale(0.82 1)" font-size="10.4" text-anchor="middle" fill="#0d0d0d" stroke="#0d0d0d">3</text>
<text transform="translate(1011.99 471.80) scale(0.82 1)" font-size="10.4" text-anchor="middle" fill="#0d0d0d" stroke="#0d0d0d">6</text>
<text transform="translate(1028.04 471.80) scale(0.82 1)" font-size="10.4" text-anchor="middle" fill="#0d0d0d" stroke="#0d0d0d">9</text>
<text transform="translate(1044.09 471.80) scale(0.82 1)" font-size="10.4" text-anchor="middle" fill="#0d0d0d" stroke="#0d0d0d">12</text>
<text transform="translate(1060.14 471.80) scale(0.82 1)" font-size="10.4" text-anchor="middle" fill="#0d0d0d" stroke="#0d0d0d">15</text>
<text transform="translate(1076.18 471.80) scale(0.82 1)" font-size="10.4" text-anchor="middle" fill="#0d0d0d" stroke="#0d0d0d">18</text>
<text transform="translate(1092.23 471.80) scale(0.82 1)" font-size="10.4" text-anchor="middle" fill="#0d0d0d" stroke="#0d0d0d">21</text>
<text transform="translate(1108.28 471.80) scale(0.82 1)" font-size="10.4" text-anchor="middle" fill="#0d0d0d" stroke="#0d0d0d">24</text>
<text transform="translate(1124.32 471.80) scale(0.82 1)" font-size="10.4" text-anchor="middle" fill="#0d0d0d" stroke="#0d0d0d">27</text>
<text transform="translate(1140.37 471.80) scale(0.82 1)" font-size="10.4" text-anchor="middle" fill="#0d0d0d" stroke="#0d0d0d">30</text>
<text transform="translate(1156.42 471.80) scale(0.82 1)" font-size="10.4" text-anchor="middle" fill="#0d0d0d" stroke="#0d0d0d">33</text>
<text transform="translate(1172.46 471.80) scale(0.82 1)" font-size="10.4" text-anchor="middle" fill="#0d0d0d" stroke="#0d0d0d">36</text>
<text transform="translate(1188.51 471.80) scale(0.82 1)" font-size="10.4" text-anchor="middle" fill="#0d0d0d" stroke="#0d0d0d">39</text>
<text transform="translate(1204.56 471.80) scale(0.82 1)" font-size="10.4" text-anchor="middle" fill="#0d0d0d" stroke="#0d0d0d">42</text>
<text transform="translate(1220.61 471.80) scale(0.82 1)" font-size="10.4" text-anchor="middle" fill="#0d0d0d" stroke="#0d0d0d">45</text>
<text transform="translate(1236.65 471.80) scale(0.82 1)" font-size="10.4" text-anchor="middle" fill="#0d0d0d" stroke="#0d0d0d">48</text>
<text transform="translate(1252.70 471.80) scale(0.82 1)" font-size="10.4" text-anchor="middle" fill="#0d0d0d" stroke="#0d0d0d">51</text>
<text transform="translate(943.90 340.20) rotate(-90) scale(0.82 1)" font-size="10.4" font-weight="bold" text-anchor="middle" fill="#0d0d0d" stroke="#0d0d0d">Probability of EFS</text>
<text transform="translate(1117.60 491.80) scale(0.82 1)" font-size="10.4" font-weight="bold" text-anchor="middle" fill="#0d0d0d" stroke="#0d0d0d">Time since randomisation (months)</text>
<path d="M979.5 225.6H981.6V225.7H983.7V225.7H985.8V225.8H987.9V225.8H990.0V225.9H992.1V226.0H994.2V226.0H996.3V226.1H998.6V227.1H1000.9V228.2H1002.8V228.9H1004.7V229.6H1006.6V230.3H1008.5V231.0H1010.4V231.8H1012.4V232.5H1014.3V233.2H1016.2V234.0H1018.5V236.3H1020.8V238.6H1023.0V241.6H1025.3V244.7H1027.6V247.3H1029.9V250.0H1031.9V250.4H1034.0V250.9H1036.0V251.3H1037.5V253.4H1039.1V255.4H1041.0V257.3H1042.9V259.2H1044.8V261.1H1046.7V263.0H1049.0V266.4H1051.3V269.9H1053.3V270.3H1055.4V270.6H1057.4V271.0H1059.4V271.8H1061.5V272.6H1063.5V273.4H1065.8V275.4H1068.1V277.5H1070.4V279.4H1072.7V281.3H1074.7V282.6H1076.8V283.9H1078.8V285.2H1080.3V286.7H1081.8V288.2H1083.7V288.6H1085.7V288.9H1087.6V289.3H1089.5V289.7H1091.8V291.4H1094.0V293.2H1095.9V293.9H1097.8V294.5H1099.8V295.1H1101.7V295.8H1103.9V297.0H1106.1V298.1H1108.3V299.3H1110.3V300.3H1112.4V301.3H1114.4V302.3H1116.4V303.3H1118.5V304.3H1120.5V305.3H1122.5V306.6H1124.6V307.8H1126.6V309.1H1128.9V311.0H1131.2V312.9H1133.1V313.2H1135.1V313.4H1137.0V313.7H1138.9V314.0H1141.2V315.0H1143.4V316.0H1145.3V316.4H1147.2V316.8H1149.2V317.1H1151.1V317.5H1152.6V319.1H1154.1V320.6H1156.4V321.8H1158.7V322.9H1160.6V323.1H1162.5V323.4H1164.4V323.6H1166.3V323.9H1168.2V324.5H1170.2V325.2H1171.7V327.7H1235.8V327.7" fill="none" stroke="#86185a" stroke-width="1.15" stroke-dasharray="2.2 1.1"/>
<path d="M979.5 226.1H981.5V226.1H983.4V226.2H985.4V226.2H987.4V226.3H989.4V226.3H991.3V226.4H993.3V226.4H995.6V227.2H997.9V227.9H999.7V228.3H1001.4V228.7H1003.2V229.1H1005.0V229.8H1006.7V230.6H1008.5V231.3H1010.4V231.8H1012.4V232.2H1014.3V232.7H1016.2V233.2H1017.7V234.8H1019.2V236.3H1021.1V237.3H1023.1V238.4H1025.0V239.4H1026.9V240.4H1028.9V241.8H1031.0V243.3H1033.0V244.7H1035.3V247.0H1037.6V249.3H1039.8V250.7H1042.1V252.0H1044.4V253.1H1046.7V254.2H1048.7V255.0H1050.8V255.7H1052.8V256.5H1055.1V256.7H1057.4V256.9H1059.4V257.4H1061.5V257.9H1063.5V258.4H1065.5V258.5H1067.6V258.6H1069.6V258.7H1071.9V260.2H1074.2V261.8H1076.1V262.2H1078.0V262.6H1079.9V263.1H1081.8V263.5H1083.8V264.1H1085.9V264.7H1087.9V265.3H1089.9V266.1H1092.0V266.8H1094.0V267.6H1096.1V268.7H1098.1V269.9H1100.2V271.0H1101.9V272.0H1103.6V273.0H1105.3V274.0H1106.8V275.1H1108.3V276.3H1110.3V277.5H1112.4V278.6H1114.4V279.8H1116.4V280.4H1118.5V281.0H1120.5V281.6H1122.3V281.9H1124.2V282.2H1126.0V282.6H1127.9V282.9H1129.7V283.2H1131.8V283.5H1134.0V283.8H1136.1V284.1H1138.3V284.4H1140.4V284.7H1142.5V284.9H1144.7V285.2H1146.8V285.4H1149.0V285.7H1151.1V285.9H1153.0V286.0H1154.9V286.0H1156.8V286.1H1158.7V286.2H1160.6V286.3H1162.5V286.4H1164.4V286.4H1166.3V286.5H1167.9V288.8H1196.1V288.8H1197.6V296.9H1235.8V296.9" fill="none" stroke="#0b8767" stroke-width="1.3"/>
<path d="M993.5 223.9V229.1M1003.5 226.6V231.8M1005.5 227.5V232.7M1016.5 230.9V236.1M1033.5 242.6V247.8M1037.5 246.6V251.8M1046.5 251.5V256.7M1049.5 252.7V257.9M1052.5 253.8V259.0M1057.5 254.3V259.5M1069.5 256.1V261.3M1075.5 259.5V264.7M1082.5 261.1V266.3M1104.5 270.9V276.1M1106.5 272.3V277.5M1116.5 277.8V283.0M1118.5 278.4V283.6M1119.5 278.7V283.9M1121.5 279.2V284.4M1122.5 279.3V284.5M1124.5 279.7V284.9M1125.5 279.9V285.1M1127.5 280.2V285.4M1128.5 280.4V285.6M1130.5 280.7V285.9M1131.5 280.9V286.1M1133.5 281.1V286.3M1134.5 281.3V286.5M1136.5 281.6V286.8M1137.5 281.7V286.9M1139.5 282.0V287.2M1140.5 282.1V287.3M1142.5 282.3V287.5M1143.5 282.4V287.6M1145.5 282.7V287.9M1146.5 282.8V288.0M1148.5 283.0V288.2M1149.5 283.1V288.3M1151.5 283.3V288.5M1152.5 283.4V288.6M1154.5 283.4V288.6M1155.5 283.5V288.7M1157.5 283.6V288.8M1158.5 283.6V288.8M1160.5 283.7V288.9M1161.5 283.7V288.9M1163.5 283.8V289.0M1164.5 283.8V289.0M1172.5 286.2V291.4M1173.5 286.2V291.4M1175.5 286.2V291.4M1176.5 286.2V291.4M1178.5 286.2V291.4M1179.5 286.2V291.4M1181.5 286.2V291.4M1182.5 286.2V291.4M1184.5 286.2V291.4M1185.5 286.2V291.4M1187.5 286.2V291.4M1188.5 286.2V291.4M1190.5 286.2V291.4M1192.5 286.2V291.4M1195.5 286.2V291.4M1198.5 294.3V299.5M1203.5 294.3V299.5M1206.5 294.3V299.5M1208.5 294.3V299.5M1209.5 294.3V299.5M1211.5 294.3V299.5M1212.5 294.3V299.5M1233.5 294.3V299.5M1235.5 294.3V299.5" fill="none" stroke="#0b8767" stroke-width="1"/>
<path d="M1117.5 278.1V283.3M1120.5 279.0V284.2M1123.5 279.5V284.7M1126.5 280.0V285.2M1129.5 280.6V285.8M1132.5 281.0V286.2M1135.5 281.4V286.6M1138.5 281.8V287.0M1141.5 282.2V287.4M1144.5 282.6V287.8M1147.5 282.9V288.1M1150.5 283.2V288.4M1153.5 283.4V288.6M1156.5 283.5V288.7M1159.5 283.6V288.8M1162.5 283.8V289.0M1165.5 283.9V289.1M1174.5 286.2V291.4M1177.5 286.2V291.4M1180.5 286.2V291.4M1183.5 286.2V291.4M1186.5 286.2V291.4M1189.5 286.2V291.4M1207.5 294.3V299.5M1210.5 294.3V299.5" fill="none" stroke="#0b8767" stroke-width="1" stroke-opacity="0.5"/>
<path d="M996.5 223.6V228.8M1025.5 242.3V247.5M1029.5 246.9V252.1M1034.5 248.4V253.6M1036.5 249.4V254.6M1057.5 268.4V273.6M1064.5 271.7V276.9M1066.5 273.5V278.7M1081.5 285.3V290.5M1093.5 290.2V295.4M1105.5 295.2V300.4M1108.5 296.8V302.0M1115.5 300.2V305.4M1116.5 300.7V305.9M1118.5 301.7V306.9M1119.5 302.2V307.4M1121.5 303.3V308.5M1122.5 303.9V309.1M1124.5 305.2V310.4M1125.5 305.8V311.0M1127.5 307.2V312.4M1128.5 308.1V313.3M1132.5 310.5V315.7M1137.5 311.2V316.4M1139.5 311.7V316.9M1145.5 313.8V319.0M1146.5 314.0V319.2M1148.5 314.4V319.6M1149.5 314.6V319.8M1151.5 315.3V320.5M1152.5 316.3V321.5M1154.5 318.2V323.4M1155.5 318.7V323.9M1157.5 319.7V324.9M1158.5 320.2V325.4M1161.5 320.7V325.9M1164.5 321.1V326.3M1172.5 325.1V330.3M1173.5 325.1V330.3M1175.5 325.1V330.3M1176.5 325.1V330.3M1178.5 325.1V330.3M1179.5 325.1V330.3M1181.5 325.1V330.3M1184.5 325.1V330.3M1187.5 325.1V330.3M1196.5 325.1V330.3M1200.5 325.1V330.3M1203.5 325.1V330.3M1205.5 325.1V330.3M1206.5 325.1V330.3M1209.5 325.1V330.3M1212.5 325.1V330.3M1217.5 325.1V330.3M1235.5 325.1V330.3" fill="none" stroke="#86185a" stroke-width="1"/>
<path d="M1114.5 299.7V304.9M1117.5 301.2V306.4M1120.5 302.7V307.9M1123.5 304.6V309.8M1126.5 306.4V311.6M1129.5 308.9V314.1M1144.5 313.6V318.8M1147.5 314.2V319.4M1150.5 314.8V320.0M1156.5 319.2V324.4M1171.5 324.8V330.0M1174.5 325.1V330.3M1177.5 325.1V330.3M1180.5 325.1V330.3M1234.5 325.1V330.3" fill="none" stroke="#86185a" stroke-width="1" stroke-opacity="0.5"/>
<text transform="translate(1104.00 265.60) scale(0.82 1)" font-size="10.4" font-weight="bold" fill="#0b8767" stroke="#0b8767">24-mo EFS: 78.3%</text>
<text transform="translate(1104.80 313.70) scale(0.82 1)" font-size="10.4" font-weight="bold" text-anchor="end" fill="#86185a" stroke="#86185a">24-mo EFS: 68.0%</text>
<text transform="translate(1193.50 280.90) scale(0.82 1)" font-size="10.4" font-weight="bold" fill="#0b8767" stroke="#0b8767">Durvalumab + FLOT</text>
<text transform="translate(1172.30 347.10) scale(0.82 1)" font-size="10.4" font-weight="bold" fill="#86185a" stroke="#86185a">Placebo + FLOT</text>
<text transform="translate(1107.40 164.30) scale(0.81 1)" font-size="19.2" font-weight="bold" text-anchor="middle" fill="#000" stroke="#000">Any pathological response*</text>
<rect x="1118.20" y="399.10" width="194.00" height="27.60" fill="#f2f2f2"/>
<rect x="1198.20" y="360.10" width="57" height="38.50" fill="#018662"/>
<rect x="1255.20" y="360.10" width="57" height="38.50" fill="#861854"/>
<text transform="translate(1227.80 371.80) scale(0.82 1)" font-size="10.4" font-weight="bold" text-anchor="middle" fill="#fff">Durvalumab</text>
<text transform="translate(1226.70 382.60) scale(0.82 1)" font-size="10.4" font-weight="bold" text-anchor="middle" fill="#fff">+ FLOT</text>
<text transform="translate(1226.70 393.80) scale(0.82 1)" font-size="10.4" font-weight="bold" text-anchor="middle" fill="#fff">(n=346)</text>
<text transform="translate(1283.30 371.80) scale(0.82 1)" font-size="10.4" font-weight="bold" text-anchor="middle" fill="#fff">Placebo</text>
<text transform="translate(1283.30 382.60) scale(0.82 1)" font-size="10.4" font-weight="bold" text-anchor="middle" fill="#fff">+ FLOT</text>
<text transform="translate(1283.30 393.80) scale(0.82 1)" font-size="10.4" font-weight="bold" text-anchor="middle" fill="#fff">(n=313)</text>
<text transform="translate(1125.00 410.80) scale(0.82 1)" font-size="10.4" fill="#0d0d0d" stroke="#0d0d0d">Median EFS</text>
<text transform="translate(1125.00 422.10) scale(0.82 1)" font-size="10.4" fill="#0d0d0d" stroke="#0d0d0d">(95% CI), mo</text>
<text transform="translate(1226.90 410.80) scale(0.82 1)" font-size="10.4" font-weight="bold" text-anchor="middle" fill="#000" stroke="#000">NR</text>
<text transform="translate(1226.90 422.20) scale(0.82 1)" font-size="10.4" font-weight="bold" text-anchor="middle" fill="#000" stroke="#000">(NR–NR)</text>
<text transform="translate(1283.50 410.80) scale(0.82 1)" font-size="10.4" font-weight="bold" text-anchor="middle" fill="#000" stroke="#000">NR</text>
<text transform="translate(1283.50 422.20) scale(0.82 1)" font-size="10.4" font-weight="bold" text-anchor="middle" fill="#000" stroke="#000">(35.65–NR)</text>
<text transform="translate(1125.00 440.00) scale(0.82 1)" font-size="10.4" fill="#0d0d0d" stroke="#0d0d0d">HR (95% CI)</text>
<text transform="translate(1255.20 440.00) scale(0.82 1)" font-size="10.4" font-weight="bold" text-anchor="middle" fill="#000" stroke="#000">0.60 (0.46–0.79)</text>
<text transform="translate(965.70 499.00) scale(0.82 1)" font-size="9.95" font-weight="bold" text-anchor="end" fill="#0d0d0d" stroke="#0d0d0d">No. of</text>
<text transform="translate(967.70 511.30) scale(0.82 1)" font-size="9.95" font-weight="bold" text-anchor="end" fill="#0d0d0d" stroke="#0d0d0d">participants at risk</text>
<text transform="translate(1274.90 499.80) scale(0.82 1)" font-size="9.95" font-weight="bold" text-anchor="middle" fill="#0d0d0d" stroke="#0d0d0d">Total no.</text>
<text transform="translate(1274.90 511.80) scale(0.82 1)" font-size="9.95" font-weight="bold" text-anchor="middle" fill="#0d0d0d" stroke="#0d0d0d">of events</text>
<text transform="translate(967.90 530.80) scale(0.82 1)" font-size="9.95" font-weight="bold" text-anchor="end" fill="#0b8767" stroke="#0b8767">Durvalumab + FLOT</text>
<text transform="translate(967.90 546.20) scale(0.82 1)" font-size="9.95" font-weight="bold" text-anchor="end" fill="#86185a" stroke="#86185a">Placebo + FLOT</text>
<text transform="translate(977.50 530.80) scale(0.82 1)" font-size="9.95" text-anchor="middle" fill="#0d0d0d" stroke="#0d0d0d">346</text>
<text transform="translate(995.95 530.80) scale(0.82 1)" font-size="9.95" text-anchor="middle" fill="#0d0d0d" stroke="#0d0d0d">343</text>
<text transform="translate(1011.99 530.80) scale(0.82 1)" font-size="9.95" text-anchor="middle" fill="#0d0d0d" stroke="#0d0d0d">330</text>
<text transform="translate(1028.04 530.80) scale(0.82 1)" font-size="9.95" text-anchor="middle" fill="#0d0d0d" stroke="#0d0d0d">314</text>
<text transform="translate(1044.09 530.80) scale(0.82 1)" font-size="9.95" text-anchor="middle" fill="#0d0d0d" stroke="#0d0d0d">295</text>
<text transform="translate(1060.14 530.80) scale(0.82 1)" font-size="9.95" text-anchor="middle" fill="#0d0d0d" stroke="#0d0d0d">283</text>
<text transform="translate(1076.18 530.80) scale(0.82 1)" font-size="9.95" text-anchor="middle" fill="#0d0d0d" stroke="#0d0d0d">273</text>
<text transform="translate(1092.23 530.80) scale(0.82 1)" font-size="9.95" text-anchor="middle" fill="#0d0d0d" stroke="#0d0d0d">265</text>
<text transform="translate(1108.28 530.80) scale(0.82 1)" font-size="9.95" text-anchor="middle" fill="#0d0d0d" stroke="#0d0d0d">248</text>
<text transform="translate(1124.32 530.80) scale(0.82 1)" font-size="9.95" text-anchor="middle" fill="#0d0d0d" stroke="#0d0d0d">201</text>
<text transform="translate(1140.37 530.80) scale(0.82 1)" font-size="9.95" text-anchor="middle" fill="#0d0d0d" stroke="#0d0d0d">162</text>
<text transform="translate(1156.42 530.80) scale(0.82 1)" font-size="9.95" text-anchor="middle" fill="#0d0d0d" stroke="#0d0d0d">90</text>
<text transform="translate(1172.46 530.80) scale(0.82 1)" font-size="9.95" text-anchor="middle" fill="#0d0d0d" stroke="#0d0d0d">75</text>
<text transform="translate(1188.51 530.80) scale(0.82 1)" font-size="9.95" text-anchor="middle" fill="#0d0d0d" stroke="#0d0d0d">28</text>
<text transform="translate(1204.56 530.80) scale(0.82 1)" font-size="9.95" text-anchor="middle" fill="#0d0d0d" stroke="#0d0d0d">17</text>
<text transform="translate(1220.61 530.80) scale(0.82 1)" font-size="9.95" text-anchor="middle" fill="#0d0d0d" stroke="#0d0d0d">2</text>
<text transform="translate(1236.65 530.80) scale(0.82 1)" font-size="9.95" text-anchor="middle" fill="#0d0d0d" stroke="#0d0d0d">1</text>
<text transform="translate(1252.70 530.80) scale(0.82 1)" font-size="9.95" text-anchor="middle" fill="#0d0d0d" stroke="#0d0d0d">0</text>
<text transform="translate(977.50 546.20) scale(0.82 1)" font-size="9.95" text-anchor="middle" fill="#0d0d0d" stroke="#0d0d0d">313</text>
<text transform="translate(995.95 546.20) scale(0.82 1)" font-size="9.95" text-anchor="middle" fill="#0d0d0d" stroke="#0d0d0d">312</text>
<text transform="translate(1011.99 546.20) scale(0.82 1)" font-size="9.95" text-anchor="middle" fill="#0d0d0d" stroke="#0d0d0d">300</text>
<text transform="translate(1028.04 546.20) scale(0.82 1)" font-size="9.95" text-anchor="middle" fill="#0d0d0d" stroke="#0d0d0d">279</text>
<text transform="translate(1044.09 546.20) scale(0.82 1)" font-size="9.95" text-anchor="middle" fill="#0d0d0d" stroke="#0d0d0d">257</text>
<text transform="translate(1060.14 546.20) scale(0.82 1)" font-size="9.95" text-anchor="middle" fill="#0d0d0d" stroke="#0d0d0d">242</text>
<text transform="translate(1076.18 546.20) scale(0.82 1)" font-size="9.95" text-anchor="middle" fill="#0d0d0d" stroke="#0d0d0d">224</text>
<text transform="translate(1092.23 546.20) scale(0.82 1)" font-size="9.95" text-anchor="middle" fill="#0d0d0d" stroke="#0d0d0d">213</text>
<text transform="translate(1108.28 546.20) scale(0.82 1)" font-size="9.95" text-anchor="middle" fill="#0d0d0d" stroke="#0d0d0d">200</text>
<text transform="translate(1124.32 546.20) scale(0.82 1)" font-size="9.95" text-anchor="middle" fill="#0d0d0d" stroke="#0d0d0d">160</text>
<text transform="translate(1140.37 546.20) scale(0.82 1)" font-size="9.95" text-anchor="middle" fill="#0d0d0d" stroke="#0d0d0d">129</text>
<text transform="translate(1156.42 546.20) scale(0.82 1)" font-size="9.95" text-anchor="middle" fill="#0d0d0d" stroke="#0d0d0d">74</text>
<text transform="translate(1172.46 546.20) scale(0.82 1)" font-size="9.95" text-anchor="middle" fill="#0d0d0d" stroke="#0d0d0d">54</text>
<text transform="translate(1188.51 546.20) scale(0.82 1)" font-size="9.95" text-anchor="middle" fill="#0d0d0d" stroke="#0d0d0d">21</text>
<text transform="translate(1204.56 546.20) scale(0.82 1)" font-size="9.95" text-anchor="middle" fill="#0d0d0d" stroke="#0d0d0d">17</text>
<text transform="translate(1220.61 546.20) scale(0.82 1)" font-size="9.95" text-anchor="middle" fill="#0d0d0d" stroke="#0d0d0d">2</text>
<text transform="translate(1236.65 546.20) scale(0.82 1)" font-size="9.95" text-anchor="middle" fill="#0d0d0d" stroke="#0d0d0d">1</text>
<text transform="translate(1252.70 546.20) scale(0.82 1)" font-size="9.95" text-anchor="middle" fill="#0d0d0d" stroke="#0d0d0d">0</text>
<text transform="translate(1274.90 530.80) scale(0.82 1)" font-size="9.95" text-anchor="middle" fill="#0d0d0d" stroke="#0d0d0d">87</text>
<text transform="translate(1274.90 546.20) scale(0.82 1)" font-size="9.95" text-anchor="middle" fill="#0d0d0d" stroke="#0d0d0d">123</text>
</g>
</svg>
<div class="fn">
<p style="top:598.2px;transform:scaleX(0.823)">*Among participants who completed surgery with samples that were evaluable for modified Ryan scoring by central assessment, the rate of participants who achieved any pathological response was 89.9% in the durvalumab + FLOT arm and 84.1% in the placebo + FLOT arm.</p>
<p style="top:609.9px;transform:scaleX(0.8227)">Data cut-off: 20 December 2024. pCR is defined as modified Ryan score of 0; MPR is defined as modified Ryan score of 0 and 1; any pathological response is defined as modified Ryan score 0, 1, and 2. Events were defined as the earliest of RECIST v1.1 events, non-RECIST v1.1 events or deaths due to any cause. Analysis was based on BICR</p>
<p style="top:621.2px;transform:scaleX(0.823)">assessments and / or locally by pathology testing if clinically required. The HR and its CI were estimated from a Cox proportional hazards model. The CI for the HR was calculated using a profile likelihood approach.</p>
<p style="top:632.9px;transform:scaleX(0.8246)">BICR, blinded independent central review; CI, confidence interval; EFS, event-free survival; FLOT, 5-fluorouracil, leucovorin, oxaliplatin and docetaxel; HR, hazard ratio; mo, month; MPR, major pathological response; NR, not reached; pCR, pathological complete response; RECIST v1.1, Response Evaluation Criteria for Solid Tumors version 1.1.</p>
</div>
</div>
</body>
</html>
